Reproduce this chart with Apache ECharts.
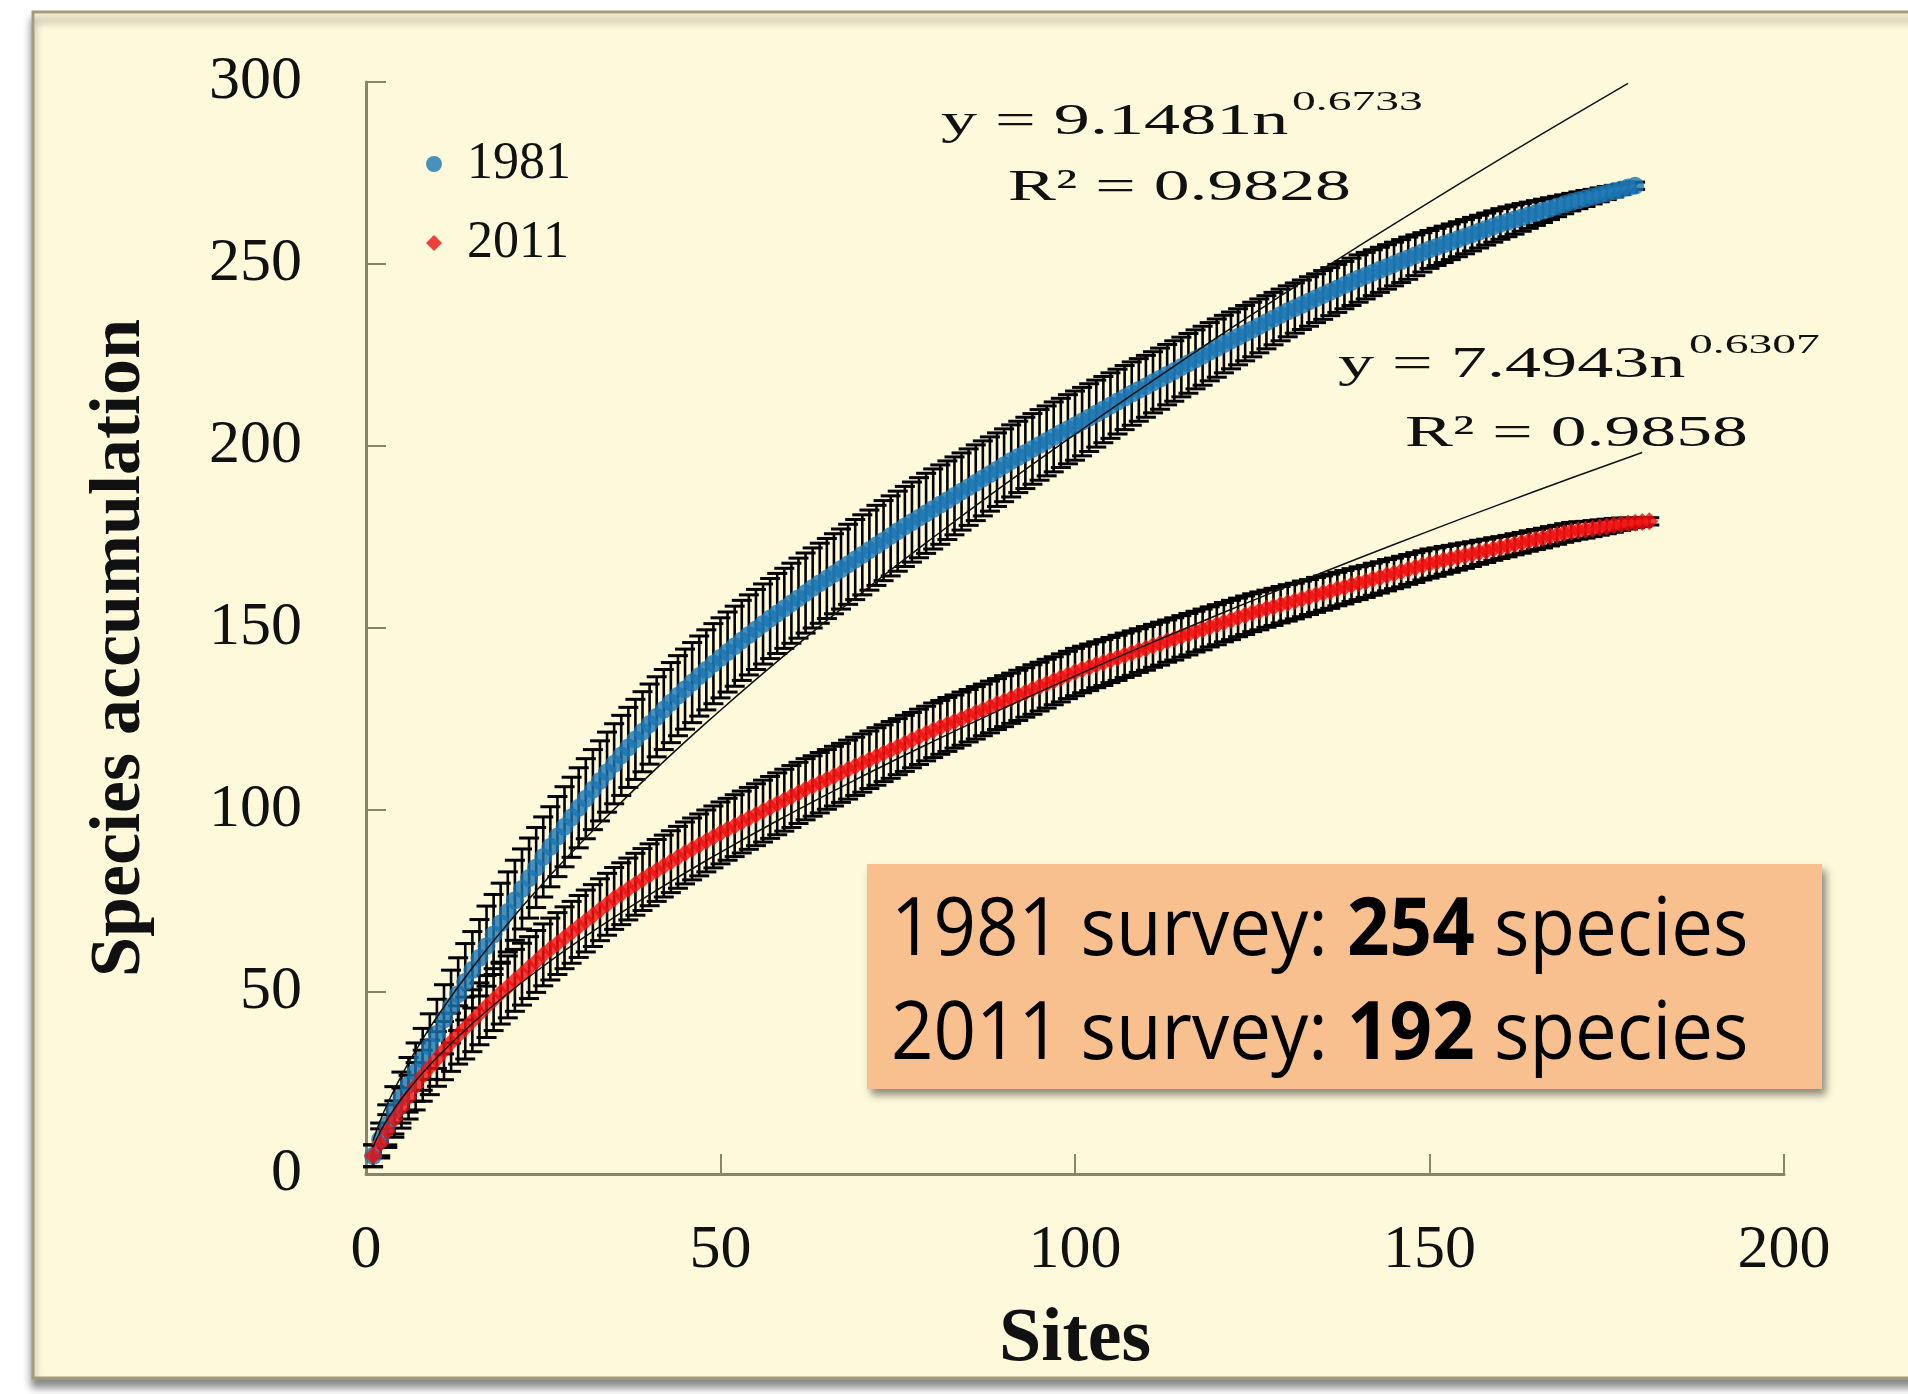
<!DOCTYPE html>
<html>
<head>
<meta charset="utf-8">
<script src="https://cdn.jsdelivr.net/npm/echarts@6/dist/echarts.min.js"></script>
<style>
html,body{margin:0;padding:0;background:#fff;}
#chart{width:1908px;height:1394px;}
</style>
</head>
<body>
<div id="chart"></div>
<script>
// ---- data ----
const xTicks = [0, 50, 100, 150, 200];
const yTicks = [0, 50, 100, 150, 200, 250, 300];

// 1981 survey: species accumulation per site (sites 1..179)
const acc1981 = [
  5, 9.5, 13.5, 17.5, 21, 24.5, 28, 31.5, 35, 38.5,
  42.5, 46, 49.4, 52.8, 56.1, 59.4, 62.6, 65.8, 68.9, 72,
  75.2, 78.3, 81.3, 84.2, 87.1, 89.9, 92.7, 95.4, 98, 100.6,
  103.1, 105.6, 108, 110.4, 112.7, 115, 117.2, 119.4, 121.5, 123.6,
  125.6, 127.6, 129.5, 131.4, 133.2, 135, 136.8, 138.5, 140.2, 141.8,
  143.4, 145, 146.6, 148.1, 149.6, 151.1, 152.6, 154, 155.4, 156.8,
  158.2, 159.6, 161, 162.3, 163.6, 164.9, 166.2, 167.5, 168.8, 170.1,
  171.4, 172.7, 174, 175.3, 176.6, 177.9, 179.1, 180.3, 181.5, 182.7,
  183.9, 185.1, 186.3, 187.5, 188.7, 189.9, 191.1, 192.3, 193.5, 194.7,
  195.9, 197, 198.1, 199.2, 200.3, 201.4, 202.5, 203.6, 204.6, 205.6,
  206.7, 207.8, 208.9, 210, 211.1, 212.2, 213.3, 214.4, 215.4, 216.4,
  217.5, 218.5, 219.6, 220.6, 221.7, 222.7, 223.8, 224.8, 225.9, 226.9,
  228, 229, 230, 231, 232, 233, 234, 235, 236, 237,
  237.9, 238.8, 239.7, 240.6, 241.5, 242.4, 243.3, 244.2, 245.1, 246,
  246.8, 247.6, 248.4, 249.2, 250, 250.8, 251.6, 252.4, 253.2, 254,
  254.7, 255.4, 256.1, 256.8, 257.5, 258.2, 258.9, 259.6, 260.3, 261,
  261.6, 262.2, 262.8, 263.4, 264, 264.6, 265.2, 265.8, 266.4, 267,
  267.5, 268, 268.5, 269, 269.5, 270, 270.5, 271, 271.5
];
// half length of the 1981 error bars
const err1981 = [
  3, 4.5, 5.5, 6.5, 7, 7.5, 8, 8.5, 9, 9.5,
  9.5, 10, 10, 10.5, 10.5, 10.5, 11, 11, 11, 11,
  11, 11, 11, 11, 11, 11, 11, 11, 11, 11,
  11, 11, 11, 11, 11, 11, 11, 11, 11, 11,
  11, 11, 11, 11, 11, 11, 11, 11, 11, 11,
  11, 11, 11, 11, 11, 11, 11, 11, 11, 11,
  11, 11, 11, 11, 11, 11, 11, 11, 11, 11,
  11, 11, 11, 11, 11, 11, 11, 11, 11, 11,
  10.9, 10.8, 10.7, 10.6, 10.5, 10.4, 10.3, 10.2, 10.1, 10,
  9.9, 9.8, 9.8, 9.7, 9.7, 9.6, 9.6, 9.5, 9.5, 9.5,
  9.4, 9.3, 9.2, 9.1, 9, 8.9, 8.8, 8.7, 8.6, 8.5,
  8.4, 8.4, 8.3, 8.3, 8.2, 8.2, 8.1, 8.1, 8, 8,
  7.9, 7.8, 7.7, 7.6, 7.5, 7.4, 7.3, 7.2, 7.1, 7,
  6.9, 6.8, 6.8, 6.7, 6.7, 6.6, 6.6, 6.5, 6.5, 6.5,
  6.4, 6.3, 6.2, 6.1, 6, 5.9, 5.8, 5.6, 5.4, 5.2,
  5.1, 5, 4.9, 4.8, 4.7, 4.6, 4.5, 4.4, 4.3, 4.2,
  4.1, 4, 3.8, 3.6, 3.4, 3.2, 3, 2.8, 2.6, 2.4,
  2.3, 2.2, 2, 1.9, 1.8, 1.6, 1.4, 1.2, 1
];

// 2011 survey: species accumulation per site (sites 1..181)
const acc2011 = [
  5, 8.4, 11.8, 15.1, 18.1, 21.1, 24.1, 27, 29.3, 31.6,
  33.9, 36.2, 38.2, 40.1, 42.1, 44, 46, 47.9, 49.7, 51.4,
  53.2, 54.9, 56.7, 58.4, 60.2, 61.8, 63.3, 64.9, 66.4, 68,
  69.5, 71, 72.6, 74.1, 75.7, 77, 78.3, 79.6, 80.9, 82.2,
  83.4, 84.6, 85.8, 87, 88.2, 89.3, 90.4, 91.5, 92.6, 93.7,
  94.7, 95.7, 96.7, 97.7, 98.7, 99.7, 100.7, 101.7, 102.7, 103.7,
  104.7, 105.7, 106.6, 107.5, 108.4, 109.3, 110.2, 111.1, 112, 112.9,
  113.8, 114.7, 115.6, 116.5, 117.4, 118.3, 119.2, 120.1, 121, 121.9,
  122.7, 123.5, 124.3, 125.1, 125.9, 126.7, 127.5, 128.3, 129.1, 129.9,
  130.7, 131.5, 132.3, 133.1, 133.9, 134.7, 135.5, 136.3, 137.1, 137.9,
  138.6, 139.2, 139.9, 140.5, 141.2, 141.8, 142.5, 143.1, 143.8, 144.4,
  145.1, 145.7, 146.4, 147, 147.7, 148.3, 149, 149.6, 150.3, 150.9,
  151.6, 152.2, 152.9, 153.5, 154.2, 154.7, 155.3, 155.8, 156.4, 156.9,
  157.4, 158, 158.5, 159.1, 159.6, 160.1, 160.7, 161.2, 161.8, 162.3,
  162.8, 163.4, 163.9, 164.5, 165, 165.5, 166.1, 166.6, 167.2, 167.7,
  168.1, 168.6, 169, 169.5, 169.9, 170.3, 170.8, 171.2, 171.7, 172.1,
  172.5, 173, 173.4, 173.9, 174.3, 174.7, 175.2, 175.6, 176.1, 176.5,
  176.8, 177, 177.3, 177.6, 177.9, 178.2, 178.5, 178.7, 178.9, 179.1, 179.3
];
// half length of the 2011 error bars
const err2011 = [
  3, 4, 4.5, 5, 5.5, 6, 6.5, 7, 7.5, 7.5,
  8, 8, 8, 8.5, 8.5, 8.5, 8.5, 8.5, 8.5, 8.5,
  8.5, 8.5, 8.5, 8.5, 8.5, 8.5, 8.5, 8.5, 8.5, 8.5,
  8.5, 8.5, 8.5, 8.5, 8.5, 8.5, 8.5, 8.5, 8.5, 8.5,
  8.5, 8.5, 8.5, 8.5, 8.5, 8.5, 8.5, 8.5, 8.5, 8.5,
  8.5, 8.5, 8.5, 8.5, 8.5, 8.5, 8.5, 8.5, 8.5, 8.5,
  8.4, 8.4, 8.3, 8.3, 8.2, 8.2, 8.1, 8.1, 8, 8,
  7.9, 7.9, 7.8, 7.8, 7.7, 7.7, 7.6, 7.6, 7.5, 7.5,
  7.4, 7.4, 7.3, 7.3, 7.2, 7.2, 7.1, 7.1, 7, 7,
  6.9, 6.9, 6.8, 6.8, 6.7, 6.7, 6.6, 6.6, 6.5, 6.5,
  6.4, 6.4, 6.3, 6.3, 6.2, 6.2, 6.1, 6.1, 6, 6,
  5.9, 5.9, 5.8, 5.8, 5.7, 5.7, 5.6, 5.6, 5.5, 5.5,
  5.4, 5.4, 5.3, 5.3, 5.2, 5.2, 5.1, 5.1, 5, 5,
  4.9, 4.9, 4.8, 4.8, 4.7, 4.7, 4.6, 4.6, 4.5, 4.5,
  4.4, 4.4, 4.3, 4.3, 4.2, 4.2, 4.1, 4.1, 4, 4,
  3.9, 3.8, 3.7, 3.6, 3.5, 3.4, 3.3, 3.2, 3.1, 3,
  2.95, 2.9, 2.85, 2.8, 2.75, 2.7, 2.65, 2.6, 2.55, 2.5,
  2.4, 2.3, 2.2, 2.1, 2, 1.9, 1.7, 1.5, 1.3, 1.2, 1
];

// power trendlines, points [site, value]
const trend1981 = [
  [1, 9.15], [2, 14.59], [3, 19.17], [5, 27.04], [7, 33.91], [10, 43.12], [15, 56.65],
  [20, 68.76], [25, 79.9], [30, 90.34], [40, 109.64], [50, 127.42], [60, 144.07],
  [70, 159.83], [80, 174.87], [90, 189.3], [100, 203.22], [110, 216.68], [120, 229.75],
  [130, 242.47], [140, 254.88], [150, 267.0], [160, 278.87], [170, 290.51], [178, 299.62]
];
const trend2011 = [
  [1, 7.49], [2, 11.6], [3, 14.98], [5, 20.68], [7, 25.57], [10, 32.02], [15, 41.35],
  [20, 49.58], [25, 57.07], [30, 64.03], [40, 76.76], [50, 88.38], [60, 99.14],
  [70, 109.26], [80, 118.85], [90, 128.02], [100, 136.82], [110, 145.3], [120, 153.5],
  [130, 161.43], [140, 169.16], [150, 176.68], [160, 184.02], [170, 191.19], [180, 198.22]
];

const seriesNames = ['1981', '2011'];
const fit1981 = { eq: 'y = 9.1481n', exp: '0.6733', r2: 'R² = 0.9828' };
const fit2011 = { eq: 'y = 7.4943n', exp: '0.6307', r2: 'R² = 0.9858' };
const summaryLines = [
  { pre: '1981 survey: ', num: '254', post: ' species' },
  { pre: '2011 survey: ', num: '192', post: ' species' }
];

// ---- build ----
const BLUE = '#1b76b3';
const RED = '#f01010';
const AXIS = '#8a8566';
const SERIF = '"Liberation Serif", "Times New Roman", serif';

function pts(vals) { return vals.map((v, i) => [i + 1, v]); }
function bars(vals, errs) { return vals.map((v, i) => [i + 1, v, errs[i]]); }

function errRender(params, api) {
  const x = api.value(0), v = api.value(1), e = api.value(2);
  const t = api.coord([x, v + e]);
  const b = api.coord([x, v - e]);
  const w = 10;
  const st = { stroke: '#000', lineWidth: 2.6 };
  const cap = { stroke: '#000', lineWidth: 3 };
  return {
    type: 'group',
    children: [
      { type: 'line', shape: { x1: t[0], y1: t[1], x2: b[0], y2: b[1] }, style: st },
      { type: 'line', shape: { x1: t[0] - w, y1: t[1], x2: t[0] + w, y2: t[1] }, style: cap },
      { type: 'line', shape: { x1: b[0] - w, y1: b[1], x2: b[0] + w, y2: b[1] }, style: cap }
    ]
  };
}

function eqText(x, y, fit) {
  return [
    { type: 'text', x: x, y: y, scaleX: 1.64, z: 20,
      style: { text: fit.eq, fontFamily: SERIF, fontSize: 44, fill: '#111', align: 'left', verticalAlign: 'middle' } },
    { type: 'text', x: x + 351, y: y - 19, scaleX: 1.7, z: 20,
      style: { text: fit.exp, fontFamily: SERIF, fontSize: 28, fill: '#111', align: 'left', verticalAlign: 'middle' } }
  ];
}
function r2Text(x, y, fit) {
  return { type: 'text', x: x, y: y, scaleX: 1.63, z: 20,
    style: { text: fit.r2, fontFamily: SERIF, fontSize: 44, fill: '#111', align: 'left', verticalAlign: 'middle' } };
}
function summaryText(y, line) {
  return { type: 'text', x: 891, y: y, z: 31, scaleX: 0.93,
    style: {
      text: '{a|' + line.pre + '}{b|' + line.num + '}{a|' + line.post + '}',
      align: 'left', verticalAlign: 'middle',
      rich: {
        a: { fontFamily: '"Open Sans", sans-serif', fontSize: 80, fill: '#000', color: '#000' },
        b: { fontFamily: '"Open Sans", sans-serif', fontSize: 80, fontWeight: 'bold', fill: '#000', color: '#000' }
      }
    } };
}

const chart = echarts.init(document.getElementById('chart'), null, { renderer: 'canvas' });
const option = {
  animation: false,
  backgroundColor: '#ffffff',
  grid: { left: 366, right: 124, top: 82, bottom: 220, containLabel: false },
  legend: {
    data: [{ name: seriesNames[0], icon: 'circle' }, { name: seriesNames[1], icon: 'diamond' }],
    orient: 'vertical', left: 421, top: 133, itemWidth: 16, itemHeight: 16, itemGap: 27,
    textStyle: { fontFamily: SERIF, fontSize: 52, color: '#111', padding: [0, 0, 0, 20] }
  },
  xAxis: {
    type: 'value', min: xTicks[0], max: xTicks[xTicks.length - 1], interval: 50,
    name: 'Sites', nameLocation: 'middle', nameGap: 128,
    nameTextStyle: { fontFamily: SERIF, fontSize: 76, fontWeight: 'bold', color: '#111' },
    axisLine: { show: true, onZero: false, lineStyle: { color: AXIS, width: 3 } },
    axisTick: { show: true, inside: true, length: 20, lineStyle: { color: AXIS, width: 2 } },
    axisLabel: { margin: 46, fontFamily: SERIF, fontSize: 62, color: '#111' },
    splitLine: { show: false }
  },
  yAxis: {
    type: 'value', min: yTicks[0], max: yTicks[yTicks.length - 1], interval: 50,
    name: 'Species accumulation', nameLocation: 'middle', nameGap: 210, nameRotate: 90,
    nameTextStyle: { fontFamily: SERIF, fontSize: 72, fontWeight: 'bold', color: '#111', padding: [0, 40, 0, 0] },
    axisLine: { show: true, onZero: false, lineStyle: { color: AXIS, width: 3 } },
    axisTick: { show: true, inside: true, length: 20, lineStyle: { color: AXIS, width: 2 } },
    axisLabel: { margin: 64, fontFamily: SERIF, fontSize: 62, color: '#111' },
    splitLine: { show: false }
  },
  series: [
    { type: 'custom', name: 'err1981', renderItem: errRender, data: bars(acc1981, err1981),
      encode: { x: 0, y: 1 }, z: 2, silent: true },
    { type: 'custom', name: 'err2011', renderItem: errRender, data: bars(acc2011, err2011),
      encode: { x: 0, y: 1 }, z: 2, silent: true },
    { type: 'scatter', name: seriesNames[0], data: pts(acc1981), symbol: 'circle', symbolSize: 18,
      itemStyle: { color: BLUE }, z: 3 },
    { type: 'scatter', name: seriesNames[1], data: pts(acc2011), symbol: 'diamond', symbolSize: 18,
      itemStyle: { color: RED }, z: 3 },
    { type: 'line', name: 'fit1981', data: trend1981, smooth: true, showSymbol: false, symbol: 'none',
      lineStyle: { color: '#111', width: 1.5 }, z: 4, silent: true },
    { type: 'line', name: 'fit2011', data: trend2011, smooth: true, showSymbol: false, symbol: 'none',
      lineStyle: { color: '#111', width: 1.5 }, z: 4, silent: true }
  ],
  graphic: {
    elements: [
      { type: 'rect', z: -10, shape: { x: 33, y: 12, width: 1900, height: 1366 },
        style: { fill: '#fff9dc', stroke: '#a29d7d', lineWidth: 3,
          shadowBlur: 8, shadowOffsetX: 0, shadowOffsetY: 8, shadowColor: 'rgba(0,0,0,0.45)' } },
      ...eqText(941, 122, fit1981),
      r2Text(1008, 188, fit1981),
      ...eqText(1338, 365, fit2011),
      r2Text(1405, 434, fit2011),
      { type: 'rect', z: 30, shape: { x: 867, y: 864, width: 955, height: 225 },
        style: { fill: '#f9c08f', shadowBlur: 8, shadowOffsetX: 4, shadowOffsetY: 6, shadowColor: 'rgba(0,0,0,0.45)' } },
      summaryText(932, summaryLines[0]),
      summaryText(1036, summaryLines[1])
    ]
  }
};
chart.setOption(option);
</script>
</body>
</html>
